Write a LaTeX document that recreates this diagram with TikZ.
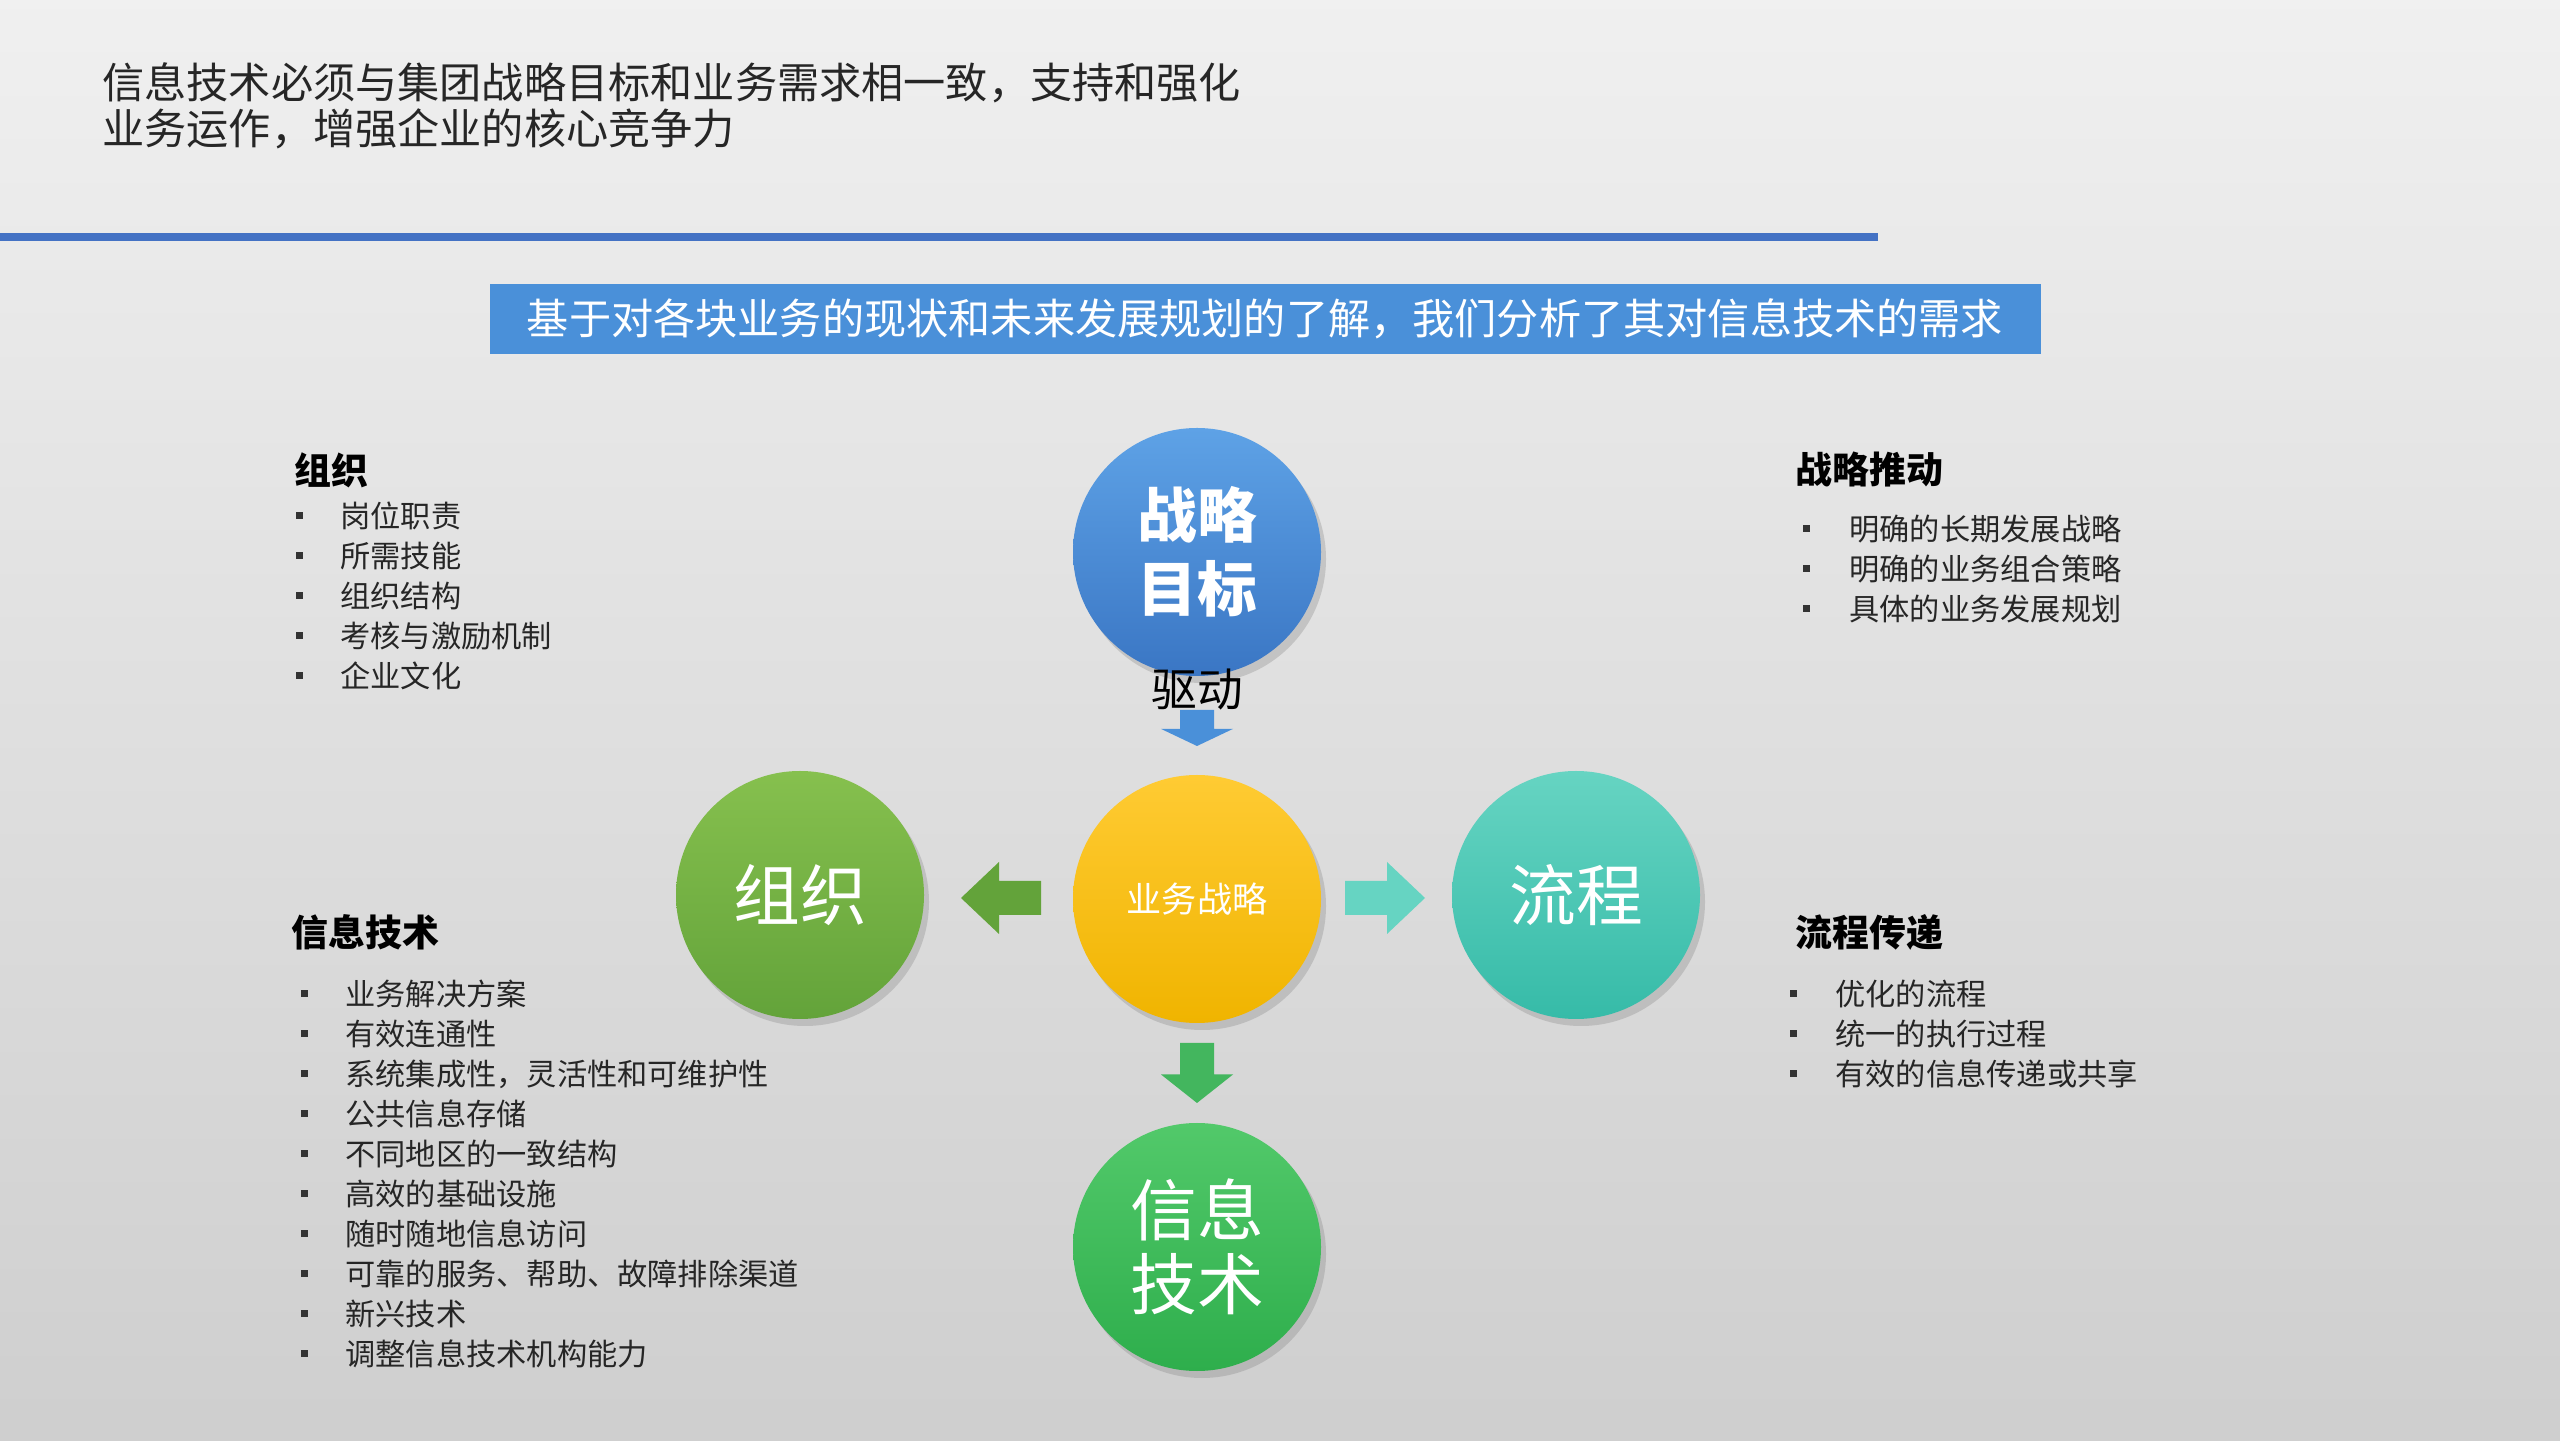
\documentclass[tikz,border=0pt]{standalone}
\usepackage{fontspec}
\setmainfont{Noto Sans CJK SC}
\usetikzlibrary{shadows}
\definecolor{bannerblue}{HTML}{4A90D9}
\definecolor{lineblue}{HTML}{4472C4}
\definecolor{bluetop}{HTML}{5EA2E6}
\definecolor{bluebot}{HTML}{3A76C4}
\definecolor{yeltop}{HTML}{FFCB33}
\definecolor{yelbot}{HTML}{F0B400}
\definecolor{orgtop}{HTML}{86C04E}
\definecolor{orgbot}{HTML}{63A33A}
\definecolor{teatop}{HTML}{66D4C2}
\definecolor{teabot}{HTML}{36BBA8}
\definecolor{ittop}{HTML}{52C96A}
\definecolor{itbot}{HTML}{2EAE4C}
\begin{document}
\begin{tikzpicture}
\useasboundingbox (0,0) rectangle (25.6,14.4);
\shade[top color=gray!12, bottom color=gray!38] (0,0) rectangle (25.6,14.4);
\tikzset{
  circ/.style={circle, minimum size=2.48cm, inner sep=0pt, align=center, text=white, drop shadow={opacity=0.3,shadow xshift=0.05cm,shadow yshift=-0.07cm}},
  hdr/.style={anchor=west, font=\fontsize{10.5pt}{12pt}\selectfont\bfseries, text=black},
  itm/.style={anchor=west, font=\fontsize{8.6pt}{10pt}\selectfont, text=black!85},
  bul/.style={fill=black!80, minimum size=0.07cm, inner sep=0pt},
  blockarrow/.pic={\fill[pic actions] (-0.4,-0.17) -- (0.02,-0.17) -- (0.02,-0.36) -- (0.4,0) -- (0.02,0.36) -- (0.02,0.17) -- (-0.4,0.17) -- cycle;}
}
\node[anchor=north west, align=left, font=\fontsize{12pt}{13.3pt}\selectfont, text=black!85] (title) at (0.9,13.9)
 {信息技术必须与集团战略目标和业务需求相一致，支持和强化\\业务运作，增强企业的核心竞争力};
\fill[lineblue] (0,11.99) rectangle (18.78,12.07);
\node[fill=bannerblue, minimum width=15.51cm, minimum height=0.7cm, text=white, font=\fontsize{12pt}{14pt}\selectfont] (banner) at (12.65,11.21) {基于对各块业务的现状和未来发展规划的了解，我们分析了其对信息技术的需求};

\node[circ, top color=bluetop, bottom color=bluebot, font=\fontsize{17pt}{21pt}\selectfont\bfseries] (goal) at (11.97,8.88) {战略\\目标};
\node[circ, top color=yeltop, bottom color=yelbot, font=\fontsize{10pt}{12pt}\selectfont] (biz) at (11.97,5.41) {业务战略};
\node[circ, top color=orgtop, bottom color=orgbot, font=\fontsize{19pt}{22pt}\selectfont] (org) at (8.00,5.45) {组织};
\node[circ, top color=teatop, bottom color=teabot, font=\fontsize{19pt}{22pt}\selectfont] (proc) at (15.76,5.45) {流程};
\node[circ, top color=ittop, bottom color=itbot, font=\fontsize{19pt}{21pt}\selectfont] (it) at (11.97,1.93) {信息\\技术};

\pic[fill=bannerblue, rotate=-90, yscale=1, xscale=0.45] at (11.97,7.12) {blockarrow};
\node[font=\fontsize{13pt}{15pt}\selectfont, text=black] (drive) at (11.97,7.5) {驱动};
\pic[fill=orgbot, rotate=180] at (10.01,5.42) {blockarrow};
\pic[fill=teatop] at (13.85,5.42) {blockarrow};
\pic[fill=itbot!90!white, rotate=-90, xscale=0.75] at (11.97,3.67) {blockarrow};

\node[hdr] (h1) at (2.82,9.70) {组织};
\foreach \t [count=\i] in {岗位职责,所需技能,组织结构,考核与激励机制,企业文化}{
  \node[bul] (b1\i) at (2.99,{9.24-0.40*(\i-1)}) {};
  \node[itm] (t1\i) at (3.28,{9.24-0.40*(\i-1)}) {\t};
}
\node[hdr] (h2) at (17.83,9.70) {战略推动};
\foreach \t [count=\i] in {明确的长期发展战略,明确的业务组合策略,具体的业务发展规划}{
  \node[bul] (b2\i) at (18.06,{9.11-0.40*(\i-1)}) {};
  \node[itm] (t2\i) at (18.37,{9.11-0.40*(\i-1)}) {\t};
}
\node[hdr] (h3) at (2.79,5.08) {信息技术};
\foreach \t [count=\i] in {业务解决方案,有效连通性,{系统集成性，灵活性和可维护性},公共信息存储,不同地区的一致结构,高效的基础设施,随时随地信息访问,可靠的服务、帮助、故障排除渠道,新兴技术,调整信息技术机构能力}{
  \node[bul] (b3\i) at (3.04,{4.46-0.40*(\i-1)}) {};
  \node[itm] (t3\i) at (3.33,{4.46-0.40*(\i-1)}) {\t};
}
\node[hdr] (h4) at (17.83,5.08) {流程传递};
\foreach \t [count=\i] in {优化的流程,统一的执行过程,有效的信息传递或共享}{
  \node[bul] (b4\i) at (17.93,{4.46-0.40*(\i-1)}) {};
  \node[itm] (t4\i) at (18.23,{4.46-0.40*(\i-1)}) {\t};
}
\end{tikzpicture}
\end{document}
